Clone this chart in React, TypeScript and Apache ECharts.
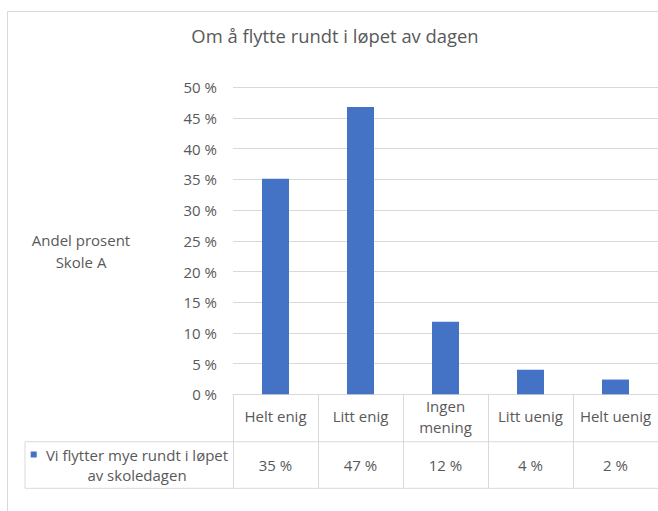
import React, { useEffect, useRef } from "react";
import * as echarts from "echarts";

const categories: string[] = ["Helt enig", "Litt enig", "Ingen\nmening", "Litt uenig", "Helt uenig"];
const values: number[] = [35.1, 46.8, 11.8, 4.0, 2.4];
const seriesName = "Vi flytter mye rundt i løpet\nav skoledagen";
const titleText = "Om å flytte rundt i løpet av dagen";
const yAxisName = "Andel prosent\nSkole A";
const yTicks = { min: 0, max: 50, interval: 5 };

const FONT = "'Open Sans', 'Noto Sans', sans-serif";
const FS = 15;
const TXT = "#595959";
const LINE = "#d9d9d9";
const BLUE = "#4472c4";

export default function App() {
  const ref = useRef<HTMLDivElement>(null);
  useEffect(() => {
    if (!ref.current) return;
    const chart = echarts.init(ref.current, undefined, { renderer: "svg" });
    const gridLeft = 233;
    const gridTop = 87.3;
    const gridH = 307;
    const axisY = gridTop + gridH;
    const row1Bottom = 441.7;
    const row2Bottom = 488.3;
    chart.setOption({
      animation: false,
      backgroundColor: "#ffffff",
      textStyle: { fontFamily: FONT },
      title: {
        text: titleText,
        left: 330,
        top: 21,
        textAlign: "center",
        textStyle: { fontSize: 18.4, fontWeight: "normal", color: TXT, fontFamily: FONT },
      },
      grid: { left: gridLeft, top: gridTop, width: 427.5, height: gridH, containLabel: false },
      xAxis: [
        {
          type: "category",
          data: categories,
          position: "bottom",
          axisLine: { show: true, lineStyle: { color: LINE, width: 1 } },
          axisTick: { show: true, length: row2Bottom - axisY, lineStyle: { color: LINE, width: 1 } },
          axisLabel: {
            margin: 22,
            verticalAlign: "middle",
            lineHeight: 21,
            fontSize: FS,
            color: TXT,
            fontFamily: FONT,
            interval: 0,
          },
        },
        {
          type: "category",
          data: categories,
          position: "bottom",
          axisLine: { show: false },
          axisTick: { show: false },
          axisLabel: {
            margin: 71,
            verticalAlign: "middle",
            fontSize: FS,
            color: TXT,
            fontFamily: FONT,
            interval: 0,
            formatter: (_v: string, i: number) => Math.round(values[i]) + " %",
          },
        },
      ],
      yAxis: {
        type: "value",
        min: yTicks.min,
        max: yTicks.max,
        interval: yTicks.interval,
        axisLine: { show: false },
        axisTick: { show: false },
        splitLine: { show: true, lineStyle: { color: LINE, width: 1 } },
        axisLabel: {
          formatter: "{value} %",
          margin: 16,
          fontSize: FS,
          color: TXT,
          fontFamily: FONT,
        },
      },
      series: [
        {
          type: "bar",
          name: seriesName,
          data: values,
          xAxisIndex: 0,
          barWidth: 27,
          itemStyle: { color: BLUE },
        },
      ],
      graphic: [
        {
          type: "rect",
          shape: { x: 7.5, y: 11.5, width: 700, height: 600 },
          style: { fill: "none", stroke: LINE, lineWidth: 1 },
          silent: true,
        },
        {
          type: "line",
          shape: { x1: 25, y1: row1Bottom, x2: 670, y2: row1Bottom },
          style: { stroke: LINE, lineWidth: 1 },
        },
        {
          type: "line",
          shape: { x1: 25, y1: row2Bottom, x2: 670, y2: row2Bottom },
          style: { stroke: LINE, lineWidth: 1 },
        },
        {
          type: "line",
          shape: { x1: 25, y1: row1Bottom, x2: 25, y2: row2Bottom },
          style: { stroke: LINE, lineWidth: 1 },
        },
        {
          type: "text",
          x: 81,
          y: 251,
          style: {
            text: yAxisName,
            fill: TXT,
            font: `${FS}px ${FONT}`,
            textAlign: "center",
            textVerticalAlign: "middle",
            lineHeight: 21.5,
          },
        },
        {
          type: "rect",
          shape: { x: 30.7, y: 451.5, width: 6, height: 6 },
          style: { fill: BLUE },
        },
        {
          type: "text",
          x: 137,
          y: 465,
          style: {
            text: seriesName,
            fill: TXT,
            font: `${FS}px ${FONT}`,
            textAlign: "center",
            textVerticalAlign: "middle",
            lineHeight: 20,
          },
        },
      ],
    });
    return () => chart.dispose();
  }, []);
  return (
    <div
      ref={ref}
      style={{ position: "absolute", left: 0, top: 0, width: 658, height: 511 }}
    />
  );
}
